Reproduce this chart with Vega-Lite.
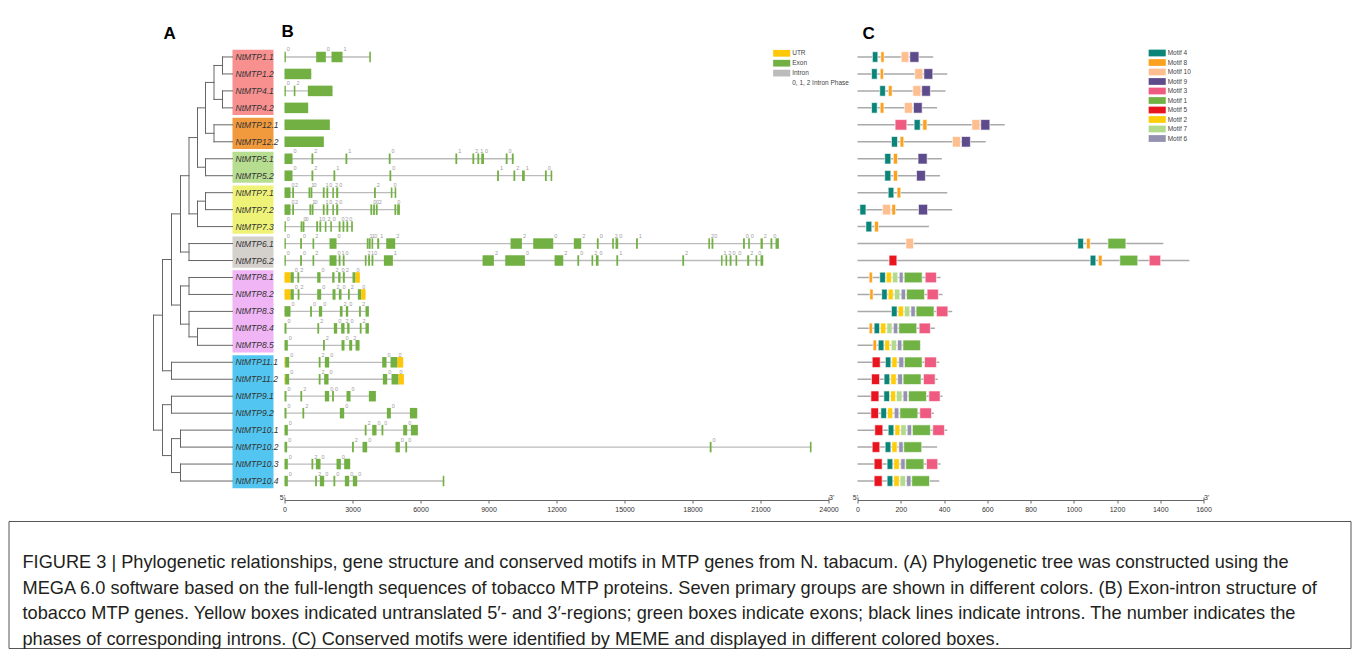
{
  "$schema": "https://vega.github.io/schema/vega-lite/v6.json",
  "background": "white",
  "padding": {"left": 7.5, "top": 22.5, "right": 8, "bottom": 8},
  "config": {
    "view": {"stroke": null},
    "font": "Liberation Sans",
    "axis": {"labelFont": "Liberation Sans"},
    "legend": {"labelFont": "Liberation Sans"}
  },
  "datasets": {
    "tips": [
      {"g": "NtMTP1.1", "row": 0}, {"g": "NtMTP1.2", "row": 1}, {"g": "NtMTP4.1", "row": 2}, {"g": "NtMTP4.2", "row": 3},
      {"g": "NtMTP12.1", "row": 4}, {"g": "NtMTP12.2", "row": 5}, {"g": "NtMTP5.1", "row": 6}, {"g": "NtMTP5.2", "row": 7},
      {"g": "NtMTP7.1", "row": 8}, {"g": "NtMTP7.2", "row": 9}, {"g": "NtMTP7.3", "row": 10}, {"g": "NtMTP6.1", "row": 11},
      {"g": "NtMTP6.2", "row": 12}, {"g": "NtMTP8.1", "row": 13}, {"g": "NtMTP8.2", "row": 14}, {"g": "NtMTP8.3", "row": 15},
      {"g": "NtMTP8.4", "row": 16}, {"g": "NtMTP8.5", "row": 17}, {"g": "NtMTP11.1", "row": 18}, {"g": "NtMTP11.2", "row": 19},
      {"g": "NtMTP9.1", "row": 20}, {"g": "NtMTP9.2", "row": 21}, {"g": "NtMTP10.1", "row": 22}, {"g": "NtMTP10.2", "row": 23},
      {"g": "NtMTP10.3", "row": 24}, {"g": "NtMTP10.4", "row": 25}
    ],
    "groups": [
      {"group": "G1", "top": -0.42, "bottom": 3.42},
      {"group": "G2", "top": 3.58, "bottom": 5.42},
      {"group": "G3", "top": 5.58, "bottom": 7.42},
      {"group": "G4", "top": 7.58, "bottom": 10.42},
      {"group": "G5", "top": 10.58, "bottom": 12.42},
      {"group": "G6", "top": 12.58, "bottom": 17.42},
      {"group": "G7", "top": 17.58, "bottom": 25.42}
    ],
    "tree": [
      {"x1": 7.2, "x2": 8.2, "y1": 0, "y2": 0}, {"x1": 7.2, "x2": 8.2, "y1": 1, "y2": 1},
      {"x1": 7.2, "x2": 8.2, "y1": 2, "y2": 2}, {"x1": 7.2, "x2": 8.2, "y1": 3, "y2": 3},
      {"x1": 6.35, "x2": 8.2, "y1": 4, "y2": 4}, {"x1": 6.35, "x2": 8.2, "y1": 5, "y2": 5},
      {"x1": 5.5, "x2": 8.2, "y1": 6, "y2": 6}, {"x1": 5.5, "x2": 8.2, "y1": 7, "y2": 7},
      {"x1": 5.5, "x2": 8.2, "y1": 8, "y2": 8}, {"x1": 5.5, "x2": 8.2, "y1": 9, "y2": 9},
      {"x1": 4.7, "x2": 8.2, "y1": 10, "y2": 10}, {"x1": 3.85, "x2": 8.2, "y1": 11, "y2": 11},
      {"x1": 3.85, "x2": 8.2, "y1": 12, "y2": 12}, {"x1": 3.85, "x2": 8.2, "y1": 13, "y2": 13},
      {"x1": 3.85, "x2": 8.2, "y1": 14, "y2": 14}, {"x1": 3.85, "x2": 8.2, "y1": 15, "y2": 15},
      {"x1": 4.7, "x2": 8.2, "y1": 16, "y2": 16}, {"x1": 4.7, "x2": 8.2, "y1": 17, "y2": 17},
      {"x1": 2.1, "x2": 8.2, "y1": 18, "y2": 18}, {"x1": 2.1, "x2": 8.2, "y1": 19, "y2": 19},
      {"x1": 2.1, "x2": 8.2, "y1": 20, "y2": 20}, {"x1": 2.1, "x2": 8.2, "y1": 21, "y2": 21},
      {"x1": 3.0, "x2": 8.2, "y1": 22, "y2": 22}, {"x1": 3.0, "x2": 8.2, "y1": 23, "y2": 23},
      {"x1": 3.0, "x2": 8.2, "y1": 24, "y2": 24}, {"x1": 3.0, "x2": 8.2, "y1": 25, "y2": 25},
      {"x1": 6.35, "x2": 7.2, "y1": 0.5, "y2": 0.5}, {"x1": 6.35, "x2": 7.2, "y1": 2.5, "y2": 2.5},
      {"x1": 5.5, "x2": 6.35, "y1": 1.5, "y2": 1.5}, {"x1": 5.5, "x2": 6.35, "y1": 4.5, "y2": 4.5},
      {"x1": 4.7, "x2": 5.5, "y1": 3.0, "y2": 3.0}, {"x1": 4.7, "x2": 5.5, "y1": 6.5, "y2": 6.5},
      {"x1": 3.85, "x2": 4.7, "y1": 4.75, "y2": 4.75}, {"x1": 4.7, "x2": 5.5, "y1": 8.5, "y2": 8.5},
      {"x1": 3.85, "x2": 4.7, "y1": 9.25, "y2": 9.25}, {"x1": 3.0, "x2": 3.85, "y1": 7.0, "y2": 7.0},
      {"x1": 3.0, "x2": 3.85, "y1": 11.5, "y2": 11.5}, {"x1": 2.1, "x2": 3.0, "y1": 9.25, "y2": 9.25},
      {"x1": 3.0, "x2": 3.85, "y1": 13.5, "y2": 13.5}, {"x1": 3.85, "x2": 4.7, "y1": 16.5, "y2": 16.5},
      {"x1": 3.0, "x2": 3.85, "y1": 15.75, "y2": 15.75}, {"x1": 2.1, "x2": 3.0, "y1": 14.625, "y2": 14.625},
      {"x1": 1.2, "x2": 2.1, "y1": 11.94, "y2": 11.94}, {"x1": 1.2, "x2": 2.1, "y1": 18.5, "y2": 18.5},
      {"x1": 0.3, "x2": 1.2, "y1": 15.22, "y2": 15.22}, {"x1": 1.2, "x2": 2.1, "y1": 20.5, "y2": 20.5},
      {"x1": 2.1, "x2": 3.0, "y1": 22.5, "y2": 22.5}, {"x1": 2.1, "x2": 3.0, "y1": 24.5, "y2": 24.5},
      {"x1": 1.2, "x2": 2.1, "y1": 23.5, "y2": 23.5}, {"x1": 0.3, "x2": 1.2, "y1": 22.0, "y2": 22.0},
      {"x1": 7.2, "x2": 7.2, "y1": 0, "y2": 1}, {"x1": 7.2, "x2": 7.2, "y1": 2, "y2": 3},
      {"x1": 6.35, "x2": 6.35, "y1": 0.5, "y2": 2.5}, {"x1": 6.35, "x2": 6.35, "y1": 4, "y2": 5},
      {"x1": 5.5, "x2": 5.5, "y1": 1.5, "y2": 4.5}, {"x1": 5.5, "x2": 5.5, "y1": 6, "y2": 7},
      {"x1": 4.7, "x2": 4.7, "y1": 3.0, "y2": 6.5}, {"x1": 5.5, "x2": 5.5, "y1": 8, "y2": 9},
      {"x1": 4.7, "x2": 4.7, "y1": 8.5, "y2": 10}, {"x1": 3.85, "x2": 3.85, "y1": 4.75, "y2": 9.25},
      {"x1": 3.85, "x2": 3.85, "y1": 11, "y2": 12}, {"x1": 3.0, "x2": 3.0, "y1": 7.0, "y2": 11.5},
      {"x1": 3.85, "x2": 3.85, "y1": 13, "y2": 14}, {"x1": 4.7, "x2": 4.7, "y1": 16, "y2": 17},
      {"x1": 3.85, "x2": 3.85, "y1": 15, "y2": 16.5}, {"x1": 3.0, "x2": 3.0, "y1": 13.5, "y2": 15.75},
      {"x1": 2.1, "x2": 2.1, "y1": 9.25, "y2": 14.625}, {"x1": 2.1, "x2": 2.1, "y1": 18, "y2": 19},
      {"x1": 1.2, "x2": 1.2, "y1": 11.94, "y2": 18.5}, {"x1": 2.1, "x2": 2.1, "y1": 20, "y2": 21},
      {"x1": 3.0, "x2": 3.0, "y1": 22, "y2": 23}, {"x1": 3.0, "x2": 3.0, "y1": 24, "y2": 25},
      {"x1": 2.1, "x2": 2.1, "y1": 22.5, "y2": 24.5}, {"x1": 1.2, "x2": 1.2, "y1": 20.5, "y2": 23.5},
      {"x1": 0.3, "x2": 0.3, "y1": 15.22, "y2": 22.0}
    ],
    "exons": [
      {"g": "NtMTP1.1", "s": 0, "e": 60, "t": "Exon", "p": "0"},
      {"g": "NtMTP1.1", "s": 1397, "e": 1824, "t": "Exon", "p": "0"},
      {"g": "NtMTP1.1", "s": 2074, "e": 2560, "t": "Exon", "p": "1"},
      {"g": "NtMTP1.1", "s": 3740, "e": 3810, "t": "Exon"},
      {"g": "NtMTP1.2", "s": 0, "e": 1180, "t": "Exon"},
      {"g": "NtMTP4.1", "s": 0, "e": 60, "t": "Exon", "p": "0"},
      {"g": "NtMTP4.1", "s": 410, "e": 480, "t": "Exon", "p": "2"},
      {"g": "NtMTP4.1", "s": 1030, "e": 2118, "t": "Exon"},
      {"g": "NtMTP4.2", "s": 0, "e": 1044, "t": "Exon"},
      {"g": "NtMTP12.1", "s": 0, "e": 2000, "t": "Exon"},
      {"g": "NtMTP12.2", "s": 0, "e": 1736, "t": "Exon"},
      {"g": "NtMTP5.1", "s": 0, "e": 353, "t": "Exon", "p": "0"},
      {"g": "NtMTP5.1", "s": 1190, "e": 1270, "t": "Exon", "p": "2"},
      {"g": "NtMTP5.1", "s": 2690, "e": 2770, "t": "Exon", "p": "1"},
      {"g": "NtMTP5.1", "s": 4600, "e": 4680, "t": "Exon", "p": "0"},
      {"g": "NtMTP5.1", "s": 7540, "e": 7620, "t": "Exon", "p": "1"},
      {"g": "NtMTP5.1", "s": 8290, "e": 8370, "t": "Exon", "p": "2"},
      {"g": "NtMTP5.1", "s": 8510, "e": 8590, "t": "Exon", "p": "1"},
      {"g": "NtMTP5.1", "s": 8680, "e": 8800, "t": "Exon", "p": "0"},
      {"g": "NtMTP5.1", "s": 9760, "e": 9840, "t": "Exon", "p": "0"},
      {"g": "NtMTP5.1", "s": 10030, "e": 10110, "t": "Exon"},
      {"g": "NtMTP5.2", "s": 0, "e": 353, "t": "Exon", "p": "0"},
      {"g": "NtMTP5.2", "s": 1190, "e": 1270, "t": "Exon", "p": "2"},
      {"g": "NtMTP5.2", "s": 2160, "e": 2240, "t": "Exon", "p": "1"},
      {"g": "NtMTP5.2", "s": 4630, "e": 4710, "t": "Exon", "p": "0"},
      {"g": "NtMTP5.2", "s": 9380, "e": 9460, "t": "Exon", "p": "1"},
      {"g": "NtMTP5.2", "s": 10100, "e": 10180, "t": "Exon", "p": "2"},
      {"g": "NtMTP5.2", "s": 10480, "e": 10600, "t": "Exon", "p": "1"},
      {"g": "NtMTP5.2", "s": 11490, "e": 11570, "t": "Exon", "p": "0"},
      {"g": "NtMTP5.2", "s": 11740, "e": 11812, "t": "Exon"},
      {"g": "NtMTP7.1", "s": 0, "e": 265, "t": "Exon", "p": "0"},
      {"g": "NtMTP7.1", "s": 340, "e": 420, "t": "Exon", "p": "2"},
      {"g": "NtMTP7.1", "s": 1060, "e": 1140, "t": "Exon", "p": "1"},
      {"g": "NtMTP7.1", "s": 1150, "e": 1230, "t": "Exon", "p": "0"},
      {"g": "NtMTP7.1", "s": 1690, "e": 1770, "t": "Exon", "p": "1"},
      {"g": "NtMTP7.1", "s": 1850, "e": 1930, "t": "Exon", "p": "0"},
      {"g": "NtMTP7.1", "s": 2110, "e": 2180, "t": "Exon", "p": "2"},
      {"g": "NtMTP7.1", "s": 2280, "e": 2370, "t": "Exon", "p": "0"},
      {"g": "NtMTP7.1", "s": 3950, "e": 4030, "t": "Exon", "p": "2"},
      {"g": "NtMTP7.1", "s": 4690, "e": 4760, "t": "Exon", "p": "0"},
      {"g": "NtMTP7.1", "s": 4860, "e": 4930, "t": "Exon"},
      {"g": "NtMTP7.2", "s": 0, "e": 265, "t": "Exon", "p": "0"},
      {"g": "NtMTP7.2", "s": 340, "e": 420, "t": "Exon", "p": "2"},
      {"g": "NtMTP7.2", "s": 1100, "e": 1180, "t": "Exon", "p": "1"},
      {"g": "NtMTP7.2", "s": 1200, "e": 1280, "t": "Exon", "p": "0"},
      {"g": "NtMTP7.2", "s": 1690, "e": 1770, "t": "Exon", "p": "1"},
      {"g": "NtMTP7.2", "s": 1850, "e": 1930, "t": "Exon", "p": "0"},
      {"g": "NtMTP7.2", "s": 2110, "e": 2180, "t": "Exon", "p": "2"},
      {"g": "NtMTP7.2", "s": 2280, "e": 2370, "t": "Exon", "p": "0"},
      {"g": "NtMTP7.2", "s": 3790, "e": 3870, "t": "Exon", "p": "0"},
      {"g": "NtMTP7.2", "s": 3910, "e": 3990, "t": "Exon", "p": "0"},
      {"g": "NtMTP7.2", "s": 4030, "e": 4110, "t": "Exon", "p": "2"},
      {"g": "NtMTP7.2", "s": 4850, "e": 4930, "t": "Exon", "p": "0"},
      {"g": "NtMTP7.2", "s": 4970, "e": 5090, "t": "Exon"},
      {"g": "NtMTP7.3", "s": 0, "e": 60, "t": "Exon", "p": "0"},
      {"g": "NtMTP7.3", "s": 710, "e": 790, "t": "Exon", "p": "0"},
      {"g": "NtMTP7.3", "s": 800, "e": 880, "t": "Exon", "p": "0"},
      {"g": "NtMTP7.3", "s": 1400, "e": 1480, "t": "Exon", "p": "1"},
      {"g": "NtMTP7.3", "s": 1540, "e": 1620, "t": "Exon", "p": "0"},
      {"g": "NtMTP7.3", "s": 1780, "e": 1850, "t": "Exon", "p": "2"},
      {"g": "NtMTP7.3", "s": 2020, "e": 2090, "t": "Exon", "p": "0"},
      {"g": "NtMTP7.3", "s": 2390, "e": 2470, "t": "Exon", "p": "0"},
      {"g": "NtMTP7.3", "s": 2560, "e": 2640, "t": "Exon", "p": "2"},
      {"g": "NtMTP7.3", "s": 2730, "e": 2810, "t": "Exon", "p": "0"},
      {"g": "NtMTP7.3", "s": 2940, "e": 3015, "t": "Exon"},
      {"g": "NtMTP6.1", "s": 0, "e": 60, "t": "Exon", "p": "0"},
      {"g": "NtMTP6.1", "s": 690, "e": 770, "t": "Exon", "p": "0"},
      {"g": "NtMTP6.1", "s": 1236, "e": 1310, "t": "Exon", "p": "2"},
      {"g": "NtMTP6.1", "s": 1986, "e": 2295, "t": "Exon", "p": "0"},
      {"g": "NtMTP6.1", "s": 3630, "e": 3710, "t": "Exon", "p": "1"},
      {"g": "NtMTP6.1", "s": 3720, "e": 3800, "t": "Exon", "p": "1"},
      {"g": "NtMTP6.1", "s": 3840, "e": 3913, "t": "Exon", "p": "0"},
      {"g": "NtMTP6.1", "s": 4089, "e": 4178, "t": "Exon", "p": "1"},
      {"g": "NtMTP6.1", "s": 4487, "e": 4884, "t": "Exon", "p": "2"},
      {"g": "NtMTP6.1", "s": 9973, "e": 10473, "t": "Exon", "p": "2"},
      {"g": "NtMTP6.1", "s": 10973, "e": 11856, "t": "Exon", "p": "0"},
      {"g": "NtMTP6.1", "s": 12764, "e": 13090, "t": "Exon", "p": "2"},
      {"g": "NtMTP6.1", "s": 13780, "e": 13860, "t": "Exon", "p": "0"},
      {"g": "NtMTP6.1", "s": 14457, "e": 14530, "t": "Exon", "p": "2"},
      {"g": "NtMTP6.1", "s": 14604, "e": 14722, "t": "Exon", "p": "0"},
      {"g": "NtMTP6.1", "s": 15510, "e": 15590, "t": "Exon", "p": "1"},
      {"g": "NtMTP6.1", "s": 18700, "e": 18770, "t": "Exon", "p": "2"},
      {"g": "NtMTP6.1", "s": 18840, "e": 18920, "t": "Exon", "p": "0"},
      {"g": "NtMTP6.1", "s": 20230, "e": 20310, "t": "Exon", "p": "0"},
      {"g": "NtMTP6.1", "s": 20458, "e": 20530, "t": "Exon", "p": "0"},
      {"g": "NtMTP6.1", "s": 21001, "e": 21103, "t": "Exon", "p": "2"},
      {"g": "NtMTP6.1", "s": 21440, "e": 21520, "t": "Exon", "p": "0"},
      {"g": "NtMTP6.1", "s": 21663, "e": 21810, "t": "Exon"},
      {"g": "NtMTP6.2", "s": 0, "e": 60, "t": "Exon", "p": "0"},
      {"g": "NtMTP6.2", "s": 690, "e": 770, "t": "Exon", "p": "0"},
      {"g": "NtMTP6.2", "s": 1236, "e": 1310, "t": "Exon", "p": "2"},
      {"g": "NtMTP6.2", "s": 1986, "e": 2295, "t": "Exon", "p": "0"},
      {"g": "NtMTP6.2", "s": 2390, "e": 2470, "t": "Exon", "p": "1"},
      {"g": "NtMTP6.2", "s": 2570, "e": 2650, "t": "Exon", "p": "0"},
      {"g": "NtMTP6.2", "s": 3545, "e": 3619, "t": "Exon", "p": "2"},
      {"g": "NtMTP6.2", "s": 3690, "e": 3770, "t": "Exon", "p": "1"},
      {"g": "NtMTP6.2", "s": 3840, "e": 3920, "t": "Exon", "p": "0"},
      {"g": "NtMTP6.2", "s": 4384, "e": 4781, "t": "Exon", "p": "1"},
      {"g": "NtMTP6.2", "s": 8738, "e": 9238, "t": "Exon", "p": "2"},
      {"g": "NtMTP6.2", "s": 9738, "e": 10606, "t": "Exon", "p": "0"},
      {"g": "NtMTP6.2", "s": 11915, "e": 12298, "t": "Exon", "p": "2"},
      {"g": "NtMTP6.2", "s": 12920, "e": 13000, "t": "Exon", "p": "0"},
      {"g": "NtMTP6.2", "s": 13545, "e": 13619, "t": "Exon", "p": "2"},
      {"g": "NtMTP6.2", "s": 13737, "e": 13854, "t": "Exon", "p": "0"},
      {"g": "NtMTP6.2", "s": 14640, "e": 14720, "t": "Exon", "p": "1"},
      {"g": "NtMTP6.2", "s": 17550, "e": 17630, "t": "Exon", "p": "2"},
      {"g": "NtMTP6.2", "s": 19260, "e": 19324, "t": "Exon", "p": "1"},
      {"g": "NtMTP6.2", "s": 19457, "e": 19530, "t": "Exon", "p": "2"},
      {"g": "NtMTP6.2", "s": 19640, "e": 19720, "t": "Exon", "p": "0"},
      {"g": "NtMTP6.2", "s": 19898, "e": 19971, "t": "Exon", "p": "0"},
      {"g": "NtMTP6.2", "s": 20413, "e": 20502, "t": "Exon", "p": "2"},
      {"g": "NtMTP6.2", "s": 20781, "e": 20855, "t": "Exon", "p": "0"},
      {"g": "NtMTP6.2", "s": 21001, "e": 21120, "t": "Exon"},
      {"g": "NtMTP8.1", "s": 0, "e": 265, "t": "UTR"},
      {"g": "NtMTP8.1", "s": 265, "e": 412, "t": "Exon", "p": "0"},
      {"g": "NtMTP8.1", "s": 570, "e": 650, "t": "Exon", "p": "2"},
      {"g": "NtMTP8.1", "s": 1442, "e": 1589, "t": "Exon", "p": "0"},
      {"g": "NtMTP8.1", "s": 2104, "e": 2206, "t": "Exon", "p": "2"},
      {"g": "NtMTP8.1", "s": 2368, "e": 2471, "t": "Exon", "p": "0"},
      {"g": "NtMTP8.1", "s": 2574, "e": 2662, "t": "Exon", "p": "2"},
      {"g": "NtMTP8.1", "s": 3001, "e": 3133, "t": "Exon", "p": "0"},
      {"g": "NtMTP8.1", "s": 3133, "e": 3324, "t": "UTR"},
      {"g": "NtMTP8.2", "s": 0, "e": 265, "t": "UTR"},
      {"g": "NtMTP8.2", "s": 265, "e": 412, "t": "Exon", "p": "0"},
      {"g": "NtMTP8.2", "s": 580, "e": 660, "t": "Exon", "p": "2"},
      {"g": "NtMTP8.2", "s": 1442, "e": 1618, "t": "Exon", "p": "0"},
      {"g": "NtMTP8.2", "s": 2118, "e": 2251, "t": "Exon", "p": "2"},
      {"g": "NtMTP8.2", "s": 2398, "e": 2515, "t": "Exon", "p": "0"},
      {"g": "NtMTP8.2", "s": 2800, "e": 2880, "t": "Exon", "p": "2"},
      {"g": "NtMTP8.2", "s": 3236, "e": 3383, "t": "Exon", "p": "0"},
      {"g": "NtMTP8.2", "s": 3383, "e": 3575, "t": "UTR"},
      {"g": "NtMTP8.3", "s": 0, "e": 265, "t": "Exon", "p": "0"},
      {"g": "NtMTP8.3", "s": 1130, "e": 1210, "t": "Exon", "p": "0"},
      {"g": "NtMTP8.3", "s": 1515, "e": 1662, "t": "Exon", "p": "0"},
      {"g": "NtMTP8.3", "s": 2442, "e": 2560, "t": "Exon", "p": "2"},
      {"g": "NtMTP8.3", "s": 2707, "e": 2810, "t": "Exon", "p": "0"},
      {"g": "NtMTP8.3", "s": 3290, "e": 3370, "t": "Exon", "p": "2"},
      {"g": "NtMTP8.3", "s": 3574, "e": 3722, "t": "Exon"},
      {"g": "NtMTP8.4", "s": 0, "e": 88, "t": "Exon", "p": "0"},
      {"g": "NtMTP8.4", "s": 1450, "e": 1530, "t": "Exon", "p": "2"},
      {"g": "NtMTP8.4", "s": 2177, "e": 2324, "t": "Exon", "p": "0"},
      {"g": "NtMTP8.4", "s": 2500, "e": 2648, "t": "Exon", "p": "2"},
      {"g": "NtMTP8.4", "s": 2766, "e": 2869, "t": "Exon", "p": "0"},
      {"g": "NtMTP8.4", "s": 3320, "e": 3400, "t": "Exon", "p": "2"},
      {"g": "NtMTP8.4", "s": 3574, "e": 3722, "t": "Exon"},
      {"g": "NtMTP8.5", "s": 0, "e": 147, "t": "Exon", "p": "0"},
      {"g": "NtMTP8.5", "s": 1700, "e": 1780, "t": "Exon", "p": "2"},
      {"g": "NtMTP8.5", "s": 2515, "e": 2648, "t": "Exon", "p": "0"},
      {"g": "NtMTP8.5", "s": 2854, "e": 2986, "t": "Exon", "p": "2"},
      {"g": "NtMTP8.5", "s": 3133, "e": 3310, "t": "Exon"},
      {"g": "NtMTP11.1", "s": 0, "e": 30, "t": "UTR"},
      {"g": "NtMTP11.1", "s": 30, "e": 206, "t": "Exon", "p": "0"},
      {"g": "NtMTP11.1", "s": 1510, "e": 1590, "t": "Exon", "p": "2"},
      {"g": "NtMTP11.1", "s": 1780, "e": 1971, "t": "Exon", "p": "0"},
      {"g": "NtMTP11.1", "s": 4310, "e": 4501, "t": "Exon", "p": "0"},
      {"g": "NtMTP11.1", "s": 4678, "e": 4987, "t": "Exon", "p": "0"},
      {"g": "NtMTP11.1", "s": 4987, "e": 5237, "t": "UTR"},
      {"g": "NtMTP11.2", "s": 0, "e": 30, "t": "UTR"},
      {"g": "NtMTP11.2", "s": 30, "e": 206, "t": "Exon", "p": "0"},
      {"g": "NtMTP11.2", "s": 1510, "e": 1590, "t": "Exon", "p": "2"},
      {"g": "NtMTP11.2", "s": 1750, "e": 1942, "t": "Exon", "p": "0"},
      {"g": "NtMTP11.2", "s": 4339, "e": 4531, "t": "Exon", "p": "0"},
      {"g": "NtMTP11.2", "s": 4722, "e": 5031, "t": "Exon", "p": "0"},
      {"g": "NtMTP11.2", "s": 5031, "e": 5266, "t": "UTR"},
      {"g": "NtMTP9.1", "s": 0, "e": 88, "t": "Exon", "p": "0"},
      {"g": "NtMTP9.1", "s": 700, "e": 780, "t": "Exon", "p": "2"},
      {"g": "NtMTP9.1", "s": 1780, "e": 1971, "t": "Exon", "p": "0"},
      {"g": "NtMTP9.1", "s": 2100, "e": 2180, "t": "Exon", "p": "0"},
      {"g": "NtMTP9.1", "s": 2736, "e": 2913, "t": "Exon", "p": "0"},
      {"g": "NtMTP9.1", "s": 3722, "e": 4031, "t": "Exon"},
      {"g": "NtMTP9.2", "s": 0, "e": 88, "t": "Exon", "p": "0"},
      {"g": "NtMTP9.2", "s": 790, "e": 870, "t": "Exon", "p": "2"},
      {"g": "NtMTP9.2", "s": 2442, "e": 2633, "t": "Exon", "p": "0"},
      {"g": "NtMTP9.2", "s": 4516, "e": 4692, "t": "Exon", "p": "0"},
      {"g": "NtMTP9.2", "s": 5531, "e": 5855, "t": "Exon"},
      {"g": "NtMTP10.1", "s": 0, "e": 147, "t": "Exon", "p": "0"},
      {"g": "NtMTP10.1", "s": 3540, "e": 3620, "t": "Exon", "p": "2"},
      {"g": "NtMTP10.1", "s": 3869, "e": 4060, "t": "Exon", "p": "0"},
      {"g": "NtMTP10.1", "s": 4280, "e": 4360, "t": "Exon", "p": "0"},
      {"g": "NtMTP10.1", "s": 5237, "e": 5413, "t": "Exon", "p": "0"},
      {"g": "NtMTP10.1", "s": 5575, "e": 5884, "t": "Exon"},
      {"g": "NtMTP10.2", "s": 0, "e": 118, "t": "Exon", "p": "0"},
      {"g": "NtMTP10.2", "s": 2980, "e": 3060, "t": "Exon", "p": "2"},
      {"g": "NtMTP10.2", "s": 3442, "e": 3648, "t": "Exon", "p": "0"},
      {"g": "NtMTP10.2", "s": 4898, "e": 5090, "t": "Exon", "p": "0"},
      {"g": "NtMTP10.2", "s": 5330, "e": 5410, "t": "Exon", "p": "0"},
      {"g": "NtMTP10.2", "s": 18760, "e": 18840, "t": "Exon", "p": "0"},
      {"g": "NtMTP10.2", "s": 23180, "e": 23250, "t": "Exon"},
      {"g": "NtMTP10.3", "s": 0, "e": 147, "t": "Exon", "p": "0"},
      {"g": "NtMTP10.3", "s": 1190, "e": 1270, "t": "Exon", "p": "2"},
      {"g": "NtMTP10.3", "s": 1383, "e": 1589, "t": "Exon", "p": "0"},
      {"g": "NtMTP10.3", "s": 2295, "e": 2486, "t": "Exon", "p": "0"},
      {"g": "NtMTP10.3", "s": 2633, "e": 2898, "t": "Exon"},
      {"g": "NtMTP10.4", "s": 0, "e": 147, "t": "Exon", "p": "0"},
      {"g": "NtMTP10.4", "s": 1350, "e": 1430, "t": "Exon", "p": "2"},
      {"g": "NtMTP10.4", "s": 1559, "e": 1750, "t": "Exon", "p": "0"},
      {"g": "NtMTP10.4", "s": 2160, "e": 2240, "t": "Exon", "p": "0"},
      {"g": "NtMTP10.4", "s": 2662, "e": 2854, "t": "Exon", "p": "0"},
      {"g": "NtMTP10.4", "s": 3015, "e": 3207, "t": "Exon", "p": "0"},
      {"g": "NtMTP10.4", "s": 6980, "e": 7050, "t": "Exon"}
    ],
    "genes": [
      {"g": "NtMTP1.1", "len": 3810}, {"g": "NtMTP1.2", "len": 1180}, {"g": "NtMTP4.1", "len": 2118}, {"g": "NtMTP4.2", "len": 1044},
      {"g": "NtMTP12.1", "len": 2000}, {"g": "NtMTP12.2", "len": 1736}, {"g": "NtMTP5.1", "len": 10110}, {"g": "NtMTP5.2", "len": 11812},
      {"g": "NtMTP7.1", "len": 4930}, {"g": "NtMTP7.2", "len": 5090}, {"g": "NtMTP7.3", "len": 3015}, {"g": "NtMTP6.1", "len": 21810},
      {"g": "NtMTP6.2", "len": 21120}, {"g": "NtMTP8.1", "len": 3324}, {"g": "NtMTP8.2", "len": 3575}, {"g": "NtMTP8.3", "len": 3722},
      {"g": "NtMTP8.4", "len": 3722}, {"g": "NtMTP8.5", "len": 3310}, {"g": "NtMTP11.1", "len": 5237}, {"g": "NtMTP11.2", "len": 5266},
      {"g": "NtMTP9.1", "len": 4031}, {"g": "NtMTP9.2", "len": 5855}, {"g": "NtMTP10.1", "len": 5884}, {"g": "NtMTP10.2", "len": 23250},
      {"g": "NtMTP10.3", "len": 2898}, {"g": "NtMTP10.4", "len": 7050}
    ],
    "proteins": [
      {"g": "NtMTP1.1", "len": 350}, {"g": "NtMTP1.2", "len": 415}, {"g": "NtMTP4.1", "len": 407}, {"g": "NtMTP4.2", "len": 368},
      {"g": "NtMTP12.1", "len": 681}, {"g": "NtMTP12.2", "len": 593}, {"g": "NtMTP5.1", "len": 390}, {"g": "NtMTP5.2", "len": 381},
      {"g": "NtMTP7.1", "len": 415}, {"g": "NtMTP7.2", "len": 438}, {"g": "NtMTP7.3", "len": 330}, {"g": "NtMTP6.1", "len": 1414},
      {"g": "NtMTP6.2", "len": 1534}, {"g": "NtMTP8.1", "len": 384}, {"g": "NtMTP8.2", "len": 393}, {"g": "NtMTP8.3", "len": 438},
      {"g": "NtMTP8.4", "len": 358}, {"g": "NtMTP8.5", "len": 291}, {"g": "NtMTP11.1", "len": 378}, {"g": "NtMTP11.2", "len": 371},
      {"g": "NtMTP9.1", "len": 393}, {"g": "NtMTP9.2", "len": 353}, {"g": "NtMTP10.1", "len": 415}, {"g": "NtMTP10.2", "len": 368},
      {"g": "NtMTP10.3", "len": 384}, {"g": "NtMTP10.4", "len": 378}
    ],
    "motifs": [
      {"g": "NtMTP1.1", "m": "Motif 4", "s": 69, "e": 94}, {"g": "NtMTP1.1", "m": "Motif 8", "s": 108, "e": 123},
      {"g": "NtMTP1.1", "m": "Motif 10", "s": 202, "e": 237}, {"g": "NtMTP1.1", "m": "Motif 9", "s": 242, "e": 284},
      {"g": "NtMTP1.2", "m": "Motif 4", "s": 65, "e": 91}, {"g": "NtMTP1.2", "m": "Motif 8", "s": 105, "e": 120},
      {"g": "NtMTP1.2", "m": "Motif 10", "s": 265, "e": 302}, {"g": "NtMTP1.2", "m": "Motif 9", "s": 307, "e": 348},
      {"g": "NtMTP4.1", "m": "Motif 4", "s": 103, "e": 129}, {"g": "NtMTP4.1", "m": "Motif 8", "s": 143, "e": 160},
      {"g": "NtMTP4.1", "m": "Motif 10", "s": 256, "e": 293}, {"g": "NtMTP4.1", "m": "Motif 9", "s": 297, "e": 337},
      {"g": "NtMTP4.2", "m": "Motif 4", "s": 65, "e": 91}, {"g": "NtMTP4.2", "m": "Motif 8", "s": 105, "e": 122},
      {"g": "NtMTP4.2", "m": "Motif 10", "s": 217, "e": 254}, {"g": "NtMTP4.2", "m": "Motif 9", "s": 259, "e": 299},
      {"g": "NtMTP12.1", "m": "Motif 3", "s": 174, "e": 228}, {"g": "NtMTP12.1", "m": "Motif 4", "s": 262, "e": 290},
      {"g": "NtMTP12.1", "m": "Motif 8", "s": 302, "e": 321}, {"g": "NtMTP12.1", "m": "Motif 10", "s": 529, "e": 566},
      {"g": "NtMTP12.1", "m": "Motif 9", "s": 570, "e": 612},
      {"g": "NtMTP12.2", "m": "Motif 4", "s": 157, "e": 185}, {"g": "NtMTP12.2", "m": "Motif 8", "s": 197, "e": 214},
      {"g": "NtMTP12.2", "m": "Motif 10", "s": 439, "e": 476}, {"g": "NtMTP12.2", "m": "Motif 9", "s": 481, "e": 522},
      {"g": "NtMTP5.1", "m": "Motif 4", "s": 126, "e": 154}, {"g": "NtMTP5.1", "m": "Motif 8", "s": 166, "e": 185},
      {"g": "NtMTP5.1", "m": "Motif 9", "s": 280, "e": 322},
      {"g": "NtMTP5.2", "m": "Motif 4", "s": 126, "e": 154}, {"g": "NtMTP5.2", "m": "Motif 8", "s": 166, "e": 185},
      {"g": "NtMTP5.2", "m": "Motif 9", "s": 273, "e": 314},
      {"g": "NtMTP7.1", "m": "Motif 4", "s": 142, "e": 168}, {"g": "NtMTP7.1", "m": "Motif 8", "s": 183, "e": 200},
      {"g": "NtMTP7.2", "m": "Motif 4", "s": 11, "e": 39}, {"g": "NtMTP7.2", "m": "Motif 10", "s": 116, "e": 153},
      {"g": "NtMTP7.2", "m": "Motif 8", "s": 159, "e": 176}, {"g": "NtMTP7.2", "m": "Motif 9", "s": 282, "e": 324},
      {"g": "NtMTP7.3", "m": "Motif 4", "s": 39, "e": 66}, {"g": "NtMTP7.3", "m": "Motif 8", "s": 79, "e": 97},
      {"g": "NtMTP6.1", "m": "Motif 10", "s": 224, "e": 259}, {"g": "NtMTP6.1", "m": "Motif 4", "s": 1019, "e": 1045},
      {"g": "NtMTP6.1", "m": "Motif 8", "s": 1059, "e": 1076}, {"g": "NtMTP6.1", "m": "Motif 1", "s": 1158, "e": 1241},
      {"g": "NtMTP6.2", "m": "Motif 5", "s": 146, "e": 182}, {"g": "NtMTP6.2", "m": "Motif 4", "s": 1076, "e": 1102},
      {"g": "NtMTP6.2", "m": "Motif 8", "s": 1114, "e": 1131}, {"g": "NtMTP6.2", "m": "Motif 1", "s": 1213, "e": 1296},
      {"g": "NtMTP6.2", "m": "Motif 3", "s": 1349, "e": 1402},
      {"g": "NtMTP8.1", "m": "Motif 8", "s": 54, "e": 69}, {"g": "NtMTP8.1", "m": "Motif 4", "s": 103, "e": 129},
      {"g": "NtMTP8.1", "m": "Motif 2", "s": 133, "e": 157}, {"g": "NtMTP8.1", "m": "Motif 7", "s": 162, "e": 186},
      {"g": "NtMTP8.1", "m": "Motif 6", "s": 193, "e": 211}, {"g": "NtMTP8.1", "m": "Motif 1", "s": 216, "e": 299},
      {"g": "NtMTP8.1", "m": "Motif 3", "s": 313, "e": 365},
      {"g": "NtMTP8.2", "m": "Motif 8", "s": 57, "e": 72}, {"g": "NtMTP8.2", "m": "Motif 4", "s": 112, "e": 137},
      {"g": "NtMTP8.2", "m": "Motif 2", "s": 142, "e": 165}, {"g": "NtMTP8.2", "m": "Motif 7", "s": 171, "e": 196},
      {"g": "NtMTP8.2", "m": "Motif 6", "s": 202, "e": 222}, {"g": "NtMTP8.2", "m": "Motif 1", "s": 227, "e": 310},
      {"g": "NtMTP8.2", "m": "Motif 3", "s": 322, "e": 374},
      {"g": "NtMTP8.3", "m": "Motif 4", "s": 157, "e": 183}, {"g": "NtMTP8.3", "m": "Motif 2", "s": 188, "e": 213},
      {"g": "NtMTP8.3", "m": "Motif 7", "s": 217, "e": 242}, {"g": "NtMTP8.3", "m": "Motif 6", "s": 247, "e": 267},
      {"g": "NtMTP8.3", "m": "Motif 1", "s": 271, "e": 354}, {"g": "NtMTP8.3", "m": "Motif 3", "s": 365, "e": 418},
      {"g": "NtMTP8.4", "m": "Motif 8", "s": 54, "e": 69}, {"g": "NtMTP8.4", "m": "Motif 4", "s": 77, "e": 102},
      {"g": "NtMTP8.4", "m": "Motif 2", "s": 106, "e": 131}, {"g": "NtMTP8.4", "m": "Motif 7", "s": 136, "e": 160},
      {"g": "NtMTP8.4", "m": "Motif 6", "s": 166, "e": 186}, {"g": "NtMTP8.4", "m": "Motif 1", "s": 191, "e": 274},
      {"g": "NtMTP8.4", "m": "Motif 3", "s": 285, "e": 337},
      {"g": "NtMTP8.5", "m": "Motif 8", "s": 72, "e": 88}, {"g": "NtMTP8.5", "m": "Motif 4", "s": 96, "e": 122},
      {"g": "NtMTP8.5", "m": "Motif 2", "s": 126, "e": 149}, {"g": "NtMTP8.5", "m": "Motif 7", "s": 156, "e": 180},
      {"g": "NtMTP8.5", "m": "Motif 6", "s": 185, "e": 205}, {"g": "NtMTP8.5", "m": "Motif 1", "s": 210, "e": 291},
      {"g": "NtMTP11.1", "m": "Motif 5", "s": 68, "e": 105}, {"g": "NtMTP11.1", "m": "Motif 4", "s": 129, "e": 154},
      {"g": "NtMTP11.1", "m": "Motif 2", "s": 159, "e": 183}, {"g": "NtMTP11.1", "m": "Motif 6", "s": 191, "e": 214},
      {"g": "NtMTP11.1", "m": "Motif 1", "s": 217, "e": 299}, {"g": "NtMTP11.1", "m": "Motif 3", "s": 310, "e": 365},
      {"g": "NtMTP11.2", "m": "Motif 5", "s": 65, "e": 102}, {"g": "NtMTP11.2", "m": "Motif 4", "s": 123, "e": 149},
      {"g": "NtMTP11.2", "m": "Motif 2", "s": 154, "e": 179}, {"g": "NtMTP11.2", "m": "Motif 6", "s": 186, "e": 208},
      {"g": "NtMTP11.2", "m": "Motif 1", "s": 211, "e": 294}, {"g": "NtMTP11.2", "m": "Motif 3", "s": 305, "e": 359},
      {"g": "NtMTP9.1", "m": "Motif 5", "s": 62, "e": 99}, {"g": "NtMTP9.1", "m": "Motif 4", "s": 122, "e": 148},
      {"g": "NtMTP9.1", "m": "Motif 2", "s": 153, "e": 176}, {"g": "NtMTP9.1", "m": "Motif 7", "s": 180, "e": 206},
      {"g": "NtMTP9.1", "m": "Motif 6", "s": 211, "e": 231}, {"g": "NtMTP9.1", "m": "Motif 1", "s": 236, "e": 319},
      {"g": "NtMTP9.1", "m": "Motif 3", "s": 330, "e": 382},
      {"g": "NtMTP9.2", "m": "Motif 5", "s": 62, "e": 97}, {"g": "NtMTP9.2", "m": "Motif 4", "s": 108, "e": 134},
      {"g": "NtMTP9.2", "m": "Motif 2", "s": 139, "e": 163}, {"g": "NtMTP9.2", "m": "Motif 6", "s": 170, "e": 191},
      {"g": "NtMTP9.2", "m": "Motif 1", "s": 196, "e": 279}, {"g": "NtMTP9.2", "m": "Motif 3", "s": 288, "e": 342},
      {"g": "NtMTP10.1", "m": "Motif 5", "s": 80, "e": 117}, {"g": "NtMTP10.1", "m": "Motif 4", "s": 142, "e": 168},
      {"g": "NtMTP10.1", "m": "Motif 2", "s": 173, "e": 196}, {"g": "NtMTP10.1", "m": "Motif 7", "s": 200, "e": 225},
      {"g": "NtMTP10.1", "m": "Motif 6", "s": 230, "e": 250}, {"g": "NtMTP10.1", "m": "Motif 1", "s": 254, "e": 337},
      {"g": "NtMTP10.1", "m": "Motif 3", "s": 348, "e": 402},
      {"g": "NtMTP10.2", "m": "Motif 5", "s": 68, "e": 103}, {"g": "NtMTP10.2", "m": "Motif 4", "s": 128, "e": 154},
      {"g": "NtMTP10.2", "m": "Motif 2", "s": 159, "e": 183}, {"g": "NtMTP10.2", "m": "Motif 6", "s": 191, "e": 211},
      {"g": "NtMTP10.2", "m": "Motif 1", "s": 214, "e": 297},
      {"g": "NtMTP10.3", "m": "Motif 5", "s": 77, "e": 114}, {"g": "NtMTP10.3", "m": "Motif 4", "s": 137, "e": 163},
      {"g": "NtMTP10.3", "m": "Motif 2", "s": 168, "e": 193}, {"g": "NtMTP10.3", "m": "Motif 6", "s": 200, "e": 220},
      {"g": "NtMTP10.3", "m": "Motif 1", "s": 223, "e": 307}, {"g": "NtMTP10.3", "m": "Motif 3", "s": 319, "e": 371},
      {"g": "NtMTP10.4", "m": "Motif 5", "s": 77, "e": 114}, {"g": "NtMTP10.4", "m": "Motif 4", "s": 137, "e": 163},
      {"g": "NtMTP10.4", "m": "Motif 2", "s": 168, "e": 193}, {"g": "NtMTP10.4", "m": "Motif 7", "s": 197, "e": 222},
      {"g": "NtMTP10.4", "m": "Motif 6", "s": 227, "e": 247}, {"g": "NtMTP10.4", "m": "Motif 1", "s": 251, "e": 333}
    ]
  },
  "spacing": 7.5,
  "vconcat": [
    {
      "hconcat": [
        {
          "width": 247,
          "height": 441,
          "title": {"text": "A", "anchor": "start", "frame": "group", "dx": 155, "offset": 6, "fontSize": 17, "fontWeight": "bold", "color": "#000000", "font": "Liberation Sans"},
          "layer": [
            {
              "data": {"name": "groups"},
              "mark": {"type": "rect"},
              "encoding": {
                "x": {"datum": 8.2, "type": "quantitative", "scale": {"domain": [-14.2, 10.5], "nice": false, "zero": false}, "axis": null},
                "x2": {"datum": 12.3},
                "y": {"field": "top", "type": "quantitative", "scale": {"domain": [-0.5, 25.5], "reverse": true, "nice": false, "zero": false}, "axis": null},
                "y2": {"field": "bottom"},
                "color": {"field": "group", "type": "nominal", "legend": null,
                  "scale": {"domain": ["G1", "G2", "G3", "G4", "G5", "G6", "G7"], "range": ["#F7908F", "#F19A3D", "#B7DD91", "#EEF378", "#D4D0CC", "#F0B5F5", "#52C6F0"]}}
              }
            },
            {
              "data": {"name": "tree"},
              "mark": {"type": "rule", "color": "#666666", "strokeWidth": 1, "strokeCap": "square"},
              "encoding": {
                "x": {"field": "x1", "type": "quantitative"},
                "x2": {"field": "x2"},
                "y": {"field": "y1", "type": "quantitative"},
                "y2": {"field": "y2"}
              }
            },
            {
              "data": {"name": "tips"},
              "mark": {"type": "text", "align": "left", "baseline": "middle", "fontStyle": "italic", "fontSize": 8.5, "color": "#333333", "font": "Liberation Sans Narrow, Liberation Sans"},
              "encoding": {
                "x": {"datum": 8.5, "type": "quantitative"},
                "y": {"field": "row", "type": "quantitative"},
                "text": {"field": "g"}
              }
            }
          ]
        },
        {
          "width": 544,
          "height": 441,
          "title": {"text": "B", "anchor": "start", "frame": "group", "dx": -3, "offset": 6, "fontSize": 17, "fontWeight": "bold", "color": "#000000", "font": "Liberation Sans"},
          "resolve": {"axis": {"x": "independent"}},
          "layer": [
            {
              "data": {"name": "genes"},
              "mark": {"type": "rule", "strokeWidth": 1.3, "color": "#BBBBBB"},
              "encoding": {
                "x": {"field": "len", "type": "quantitative", "scale": {"domain": [0, 24000], "nice": false, "zero": true},
                  "axis": {"orient": "bottom", "values": [0, 3000, 6000, 9000, 12000, 15000, 18000, 21000, 24000], "format": "d", "offset": 10.5, "title": null, "grid": false,
                    "labelFontSize": 7, "labelColor": "#333333", "tickSize": 3, "tickColor": "#666666", "domainColor": "#666666", "labelPadding": 2, "labelFlush": false, "labelOverlap": false}},
                "x2": {"datum": 0},
                "y": {"field": "g", "type": "nominal", "axis": null,
                  "scale": {"domain": ["NtMTP1.1","NtMTP1.2","NtMTP4.1","NtMTP4.2","NtMTP12.1","NtMTP12.2","NtMTP5.1","NtMTP5.2","NtMTP7.1","NtMTP7.2","NtMTP7.3","NtMTP6.1","NtMTP6.2","NtMTP8.1","NtMTP8.2","NtMTP8.3","NtMTP8.4","NtMTP8.5","NtMTP11.1","NtMTP11.2","NtMTP9.1","NtMTP9.2","NtMTP10.1","NtMTP10.2","NtMTP10.3","NtMTP10.4"], "paddingInner": 0, "paddingOuter": 0}}
              }
            },
            {
              "data": {"name": "exons"},
              "mark": {"type": "bar", "height": {"band": 0.62}},
              "encoding": {
                "x": {"field": "s", "type": "quantitative",
                  "axis": {"orient": "top", "values": [0], "offset": -451.5, "title": null, "grid": false, "domain": false,
                    "tickSize": 3, "tickColor": "#666666", "labelExpr": "\"5'\"", "labelAlign": "right",
                    "labelPadding": -3, "labelFontSize": 7, "labelColor": "#333333", "labelFlush": false, "labelOverlap": false}},
                "x2": {"field": "e"},
                "y": {"field": "g", "type": "nominal", "axis": null},
                "color": {"field": "t", "type": "nominal",
                  "scale": {"domain": ["UTR", "Exon", "Intron", "0, 1, 2 Intron Phase"], "range": ["#FFC709", "#72B043", "#BBBBBB", "#FFFFFF"]},
                  "legend": {"orient": "none", "legendX": 492.7, "legendY": 0.3, "title": null, "padding": 0,
                    "symbolType": "M-1.9,-0.75H1.9V0.75H-1.9Z", "symbolSize": 81, "symbolStrokeWidth": 0, "labelOffset": 6, "rowPadding": 1.9,
                    "labelFontSize": 6.5, "labelColor": "#444444"}}
              }
            },
            {
              "data": {"name": "exons"},
              "transform": [{"filter": "isValid(datum.p)"}],
              "mark": {"type": "text", "align": "left", "baseline": "middle", "dx": 1, "dy": -7.5, "fontSize": 5.5, "color": "#9A9A9A"},
              "encoding": {
                "x": {"field": "e", "type": "quantitative",
                  "axis": {"orient": "top", "values": [24000], "offset": -451.5, "title": null, "grid": false, "domain": false,
                    "tickSize": 3, "tickColor": "#666666", "labelExpr": "\"3'\"", "labelAlign": "left",
                    "labelPadding": -3, "labelFontSize": 7, "labelColor": "#333333", "labelFlush": false, "labelOverlap": false}},
                "y": {"field": "g", "type": "nominal", "axis": null},
                "text": {"field": "p"}
              }
            }
          ]
        },
        {
          "width": 346,
          "height": 441,
          "title": {"text": "C", "anchor": "start", "frame": "group", "dx": 5, "offset": 6, "fontSize": 17, "fontWeight": "bold", "color": "#000000", "font": "Liberation Sans"},
          "resolve": {"axis": {"x": "independent"}},
          "layer": [
            {
              "data": {"name": "proteins"},
              "mark": {"type": "rule", "strokeWidth": 1.5, "color": "#A9A9A9"},
              "encoding": {
                "x": {"field": "len", "type": "quantitative", "scale": {"domain": [0, 1600], "nice": false, "zero": true},
                  "axis": {"orient": "bottom", "values": [0, 200, 400, 600, 800, 1000, 1200, 1400, 1600], "format": "d", "offset": 10.5, "title": null, "grid": false,
                    "labelFontSize": 7, "labelColor": "#333333", "tickSize": 3, "tickColor": "#666666", "domainColor": "#666666", "labelPadding": 2, "labelFlush": false, "labelOverlap": false}},
                "x2": {"datum": 0},
                "y": {"field": "g", "type": "nominal", "axis": null,
                  "scale": {"domain": ["NtMTP1.1","NtMTP1.2","NtMTP4.1","NtMTP4.2","NtMTP12.1","NtMTP12.2","NtMTP5.1","NtMTP5.2","NtMTP7.1","NtMTP7.2","NtMTP7.3","NtMTP6.1","NtMTP6.2","NtMTP8.1","NtMTP8.2","NtMTP8.3","NtMTP8.4","NtMTP8.5","NtMTP11.1","NtMTP11.2","NtMTP9.1","NtMTP9.2","NtMTP10.1","NtMTP10.2","NtMTP10.3","NtMTP10.4"], "paddingInner": 0, "paddingOuter": 0}}
              }
            },
            {
              "data": {"name": "motifs"},
              "mark": {"type": "bar", "height": {"band": 0.62}, "stroke": "white", "strokeWidth": 0.6},
              "encoding": {
                "x": {"field": "s", "type": "quantitative",
                  "axis": {"orient": "top", "values": [0], "offset": -451.5, "title": null, "grid": false, "domain": false,
                    "tickSize": 3, "tickColor": "#666666", "labelExpr": "\"5'\"", "labelAlign": "right",
                    "labelPadding": -3, "labelFontSize": 7, "labelColor": "#333333", "labelFlush": false, "labelOverlap": false}},
                "x2": {"field": "e"},
                "y": {"field": "g", "type": "nominal", "axis": null},
                "color": {"field": "m", "type": "nominal",
                  "scale": {"domain": ["Motif 4", "Motif 8", "Motif 10", "Motif 9", "Motif 3", "Motif 1", "Motif 5", "Motif 2", "Motif 7", "Motif 6"],
                    "range": ["#0B8578", "#FCA11E", "#FDBF90", "#5E4B8B", "#EF5B80", "#70B244", "#E8141E", "#FECD0A", "#B3DA8C", "#9591B0"]},
                  "legend": {"orient": "none", "legendX": 295.2, "legendY": 0, "title": null, "padding": 0,
                    "symbolType": "M-1.9,-0.75H1.9V0.75H-1.9Z", "symbolSize": 81, "symbolStrokeWidth": 0, "labelOffset": 6, "rowPadding": 1.5,
                    "labelFontSize": 6.5, "labelColor": "#444444"}}
              }
            },
            {
              "data": {"name": "proteins"},
              "mark": {"type": "rule", "opacity": 0},
              "encoding": {
                "x": {"field": "len", "type": "quantitative",
                  "axis": {"orient": "top", "values": [1600], "offset": -451.5, "title": null, "grid": false, "domain": false,
                    "tickSize": 3, "tickColor": "#666666", "labelExpr": "\"3'\"", "labelAlign": "left",
                    "labelPadding": -3, "labelFontSize": 7, "labelColor": "#333333", "labelFlush": false, "labelOverlap": false}},
                "x2": {"datum": 0},
                "y": {"field": "g", "type": "nominal", "axis": null}
              }
            }
          ]
        }
      ],
      "spacing": 29,
      "bounds": "flush",
      "resolve": {"scale": {"x": "independent", "y": "independent", "color": "independent"}, "legend": {"color": "independent"}}
    },
    {
      "width": 1342,
      "height": 127,
      "view": {"stroke": "#555555", "strokeWidth": 1},
      "data": {"values": [{"k": 1}]},
      "mark": {"type": "point", "opacity": 0},
      "title": {
        "text": [
          "FIGURE 3 | Phylogenetic relationships, gene structure and conserved motifs in MTP genes from N. tabacum. (A) Phylogenetic tree was constructed using the",
          "MEGA 6.0 software based on the full-length sequences of tobacco MTP proteins. Seven primary groups are shown in different colors. (B) Exon-intron structure of",
          "tobacco MTP genes. Yellow boxes indicated untranslated 5′- and 3′-regions; green boxes indicate exons; black lines indicate introns. The number indicates the",
          "phases of corresponding introns. (C) Conserved motifs were identified by MEME and displayed in different colored boxes."
        ],
        "orient": "top", "anchor": "start", "frame": "group", "offset": -142, "baseline": "alphabetic", "dx": 14,
        "fontSize": 18.2, "font": "Liberation Sans", "fontWeight": "normal", "color": "#231F20", "lineHeight": 25.5
      }
    }
  ]
}
